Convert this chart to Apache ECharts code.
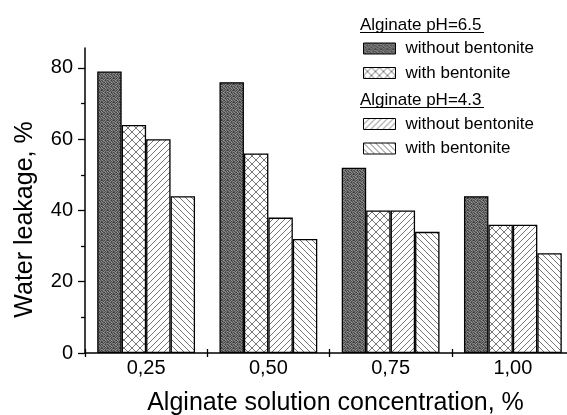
<!DOCTYPE html>
<html>
<head>
<meta charset="utf-8">
<script src="https://cdn.jsdelivr.net/npm/echarts@6/dist/echarts.min.js"></script>
<style>
html, body { margin: 0; padding: 0; background: #fff; }
#chart { width: 567px; height: 415px; }
</style>
</head>
<body>
<div id="chart"></div>
<script>
// data
const categories = ['0,25', '0,50', '0,75', '1,00'];
const ph65Without = [79, 76, 52, 44];
const ph65With = [64, 56, 40, 36];
const ph43Without = [60, 38, 40, 36];
const ph43With = [44, 32, 34, 28];
const yTicks = [0, 20, 40, 60, 80];
const yMinorTicks = [10, 30, 50, 70];
const seriesLabels = {
    'pH6.5 without': 'without bentonite',
    'pH6.5 with': 'with bentonite',
    'pH4.3 without': 'without bentonite',
    'pH4.3 with': 'with bentonite'
};

const FONT = '"Liberation Sans", Arial, sans-serif';

// hatch fills
function hatch(dirs, size, color) {
    let c = document.createElement('canvas');
    c.width = c.height = size;
    let ctx = c.getContext('2d');
    ctx.fillStyle = '#fff';
    ctx.fillRect(0, 0, size, size);
    ctx.strokeStyle = color;
    ctx.lineWidth = 0.9;
    let line = (x0, y0, x1, y1) => {
        ctx.beginPath();
        ctx.moveTo(x0, y0);
        ctx.lineTo(x1, y1);
        ctx.stroke();
    };
    if (dirs.indexOf('/') >= 0) {
        line(-1, size + 1, size + 1, -1);
        line(-1, 1, 1, -1);
        line(size - 1, size + 1, size + 1, size - 1);
    }
    if (dirs.indexOf('\\') >= 0) {
        line(-1, -1, size + 1, size + 1);
        line(size - 1, -1, size + 1, 1);
        line(-1, size - 1, 1, size + 1);
    }
    return c;
}

// dark speckled fill (fixed ordered pattern, no randomness)
function speckle() {
    let m = [
        [3, 9, 1, 12, 5, 0],
        [11, 2, 14, 4, 8, 13],
        [6, 15, 7, 0, 10, 2],
        [1, 8, 12, 9, 3, 14],
        [13, 4, 0, 15, 6, 7],
        [5, 10, 11, 2, 12, 1]
    ];
    let n = 6;
    let c = document.createElement('canvas');
    c.width = c.height = n;
    let ctx = c.getContext('2d');
    let img = ctx.createImageData(n, n);
    for (let y = 0; y < n; y++) {
        for (let x = 0; x < n; x++) {
            let v = 60 + m[y][x] * 6;
            let i = (y * n + x) * 4;
            img.data[i] = img.data[i + 1] = img.data[i + 2] = v;
            img.data[i + 3] = 255;
        }
    }
    ctx.putImageData(img, 0, 0);
    return c;
}

const fills = [
    {image: speckle(), repeat: 'repeat'},
    {image: hatch('/\\', 8, '#666'), repeat: 'repeat'},
    {image: hatch('/', 6, '#666'), repeat: 'repeat'},
    {image: hatch('\\', 6, '#666'), repeat: 'repeat'}
];

function bar(name, data, i) {
    return {
        name: name,
        type: 'bar',
        data: data,
        barGap: '0%',
        barCategoryGap: '20%',
        itemStyle: {color: fills[i], borderColor: '#000', borderWidth: 1.3},
        animation: false
    };
}

const legendCommon = {
    orient: 'vertical',
    left: 363,
    padding: 0,
    icon: 'rect',
    itemWidth: 32,
    itemHeight: 11,
    itemGap: 7.5,
    selectedMode: false,
    itemStyle: {borderColor: '#000', borderWidth: 1},
    textStyle: {fontFamily: FONT, fontSize: 17, color: '#000', lineHeight: 17, padding: [0, 0, 0, 5]},
    formatter: (name) => seriesLabels[name]
};

let option = {
    animation: false,
    grid: {left: 85, top: 48, width: 489, height: 305, outerBoundsMode: 'none'},
    legend: [
        Object.assign({top: 40, data: ['pH6.5 without', 'pH6.5 with']}, legendCommon),
        Object.assign({top: 115.5, data: ['pH4.3 without', 'pH4.3 with']}, legendCommon)
    ],
    graphic: [
        {type: 'text', x: 360, y: 25, style: {text: 'Alginate pH=6.5', font: '17px ' + FONT, fill: '#000', verticalAlign: 'middle'}},
        {type: 'line', shape: {x1: 360, y1: 32.5, x2: 484, y2: 32.5}, style: {stroke: '#000', lineWidth: 1}},
        {type: 'text', x: 360, y: 100, style: {text: 'Alginate pH=4.3', font: '17px ' + FONT, fill: '#000', verticalAlign: 'middle'}},
        {type: 'line', shape: {x1: 360, y1: 107.5, x2: 484, y2: 107.5}, style: {stroke: '#000', lineWidth: 1}}
    ],
    xAxis: [{
        type: 'category',
        data: categories,
        position: 'bottom',
        name: 'Alginate solution concentration, %',
        nameLocation: 'middle',
        nameGap: 38,
        nameTextStyle: {fontFamily: FONT, fontSize: 25, color: '#000', padding: [0, 0, 0, 12]},
        axisLine: {lineStyle: {color: '#000', width: 1.5}},
        axisTick: {show: true, length: 4, lineStyle: {color: '#000', width: 1.3}},
        axisLabel: {fontFamily: FONT, fontSize: 20, color: '#000', margin: 5}
    }, {
        type: 'category',
        data: categories,
        position: 'bottom',
        axisLine: {show: false},
        axisTick: {show: true, inside: true, length: 4, lineStyle: {color: '#000', width: 1.3}},
        axisLabel: {show: false}
    }],
    yAxis: [{
        type: 'value',
        min: 0,
        max: 85.6,
        name: 'Water leakage, %',
        nameLocation: 'middle',
        nameGap: 47,
        nameTextStyle: {fontFamily: FONT, fontSize: 25, color: '#000', padding: [0, 38, 0, 0]},
        axisLine: {show: true, lineStyle: {color: '#000', width: 1.5}},
        axisTick: {show: true, length: 7, customValues: yTicks, lineStyle: {color: '#000', width: 1.3}},
        axisLabel: {fontFamily: FONT, fontSize: 20, color: '#000', margin: 12, customValues: yTicks},
        splitLine: {show: false}
    }, {
        type: 'value',
        min: 0,
        max: 85.6,
        position: 'left',
        axisLine: {show: false},
        axisTick: {show: true, length: 4, customValues: yMinorTicks, lineStyle: {color: '#000', width: 1.3}},
        axisLabel: {show: false},
        splitLine: {show: false}
    }],
    series: [
        bar('pH6.5 without', ph65Without, 0),
        bar('pH6.5 with', ph65With, 1),
        bar('pH4.3 without', ph43Without, 2),
        bar('pH4.3 with', ph43With, 3)
    ]
};

let myChart = echarts.init(document.getElementById('chart'), null, {renderer: 'canvas'});
myChart.setOption(option);
</script>
</body>
</html>
